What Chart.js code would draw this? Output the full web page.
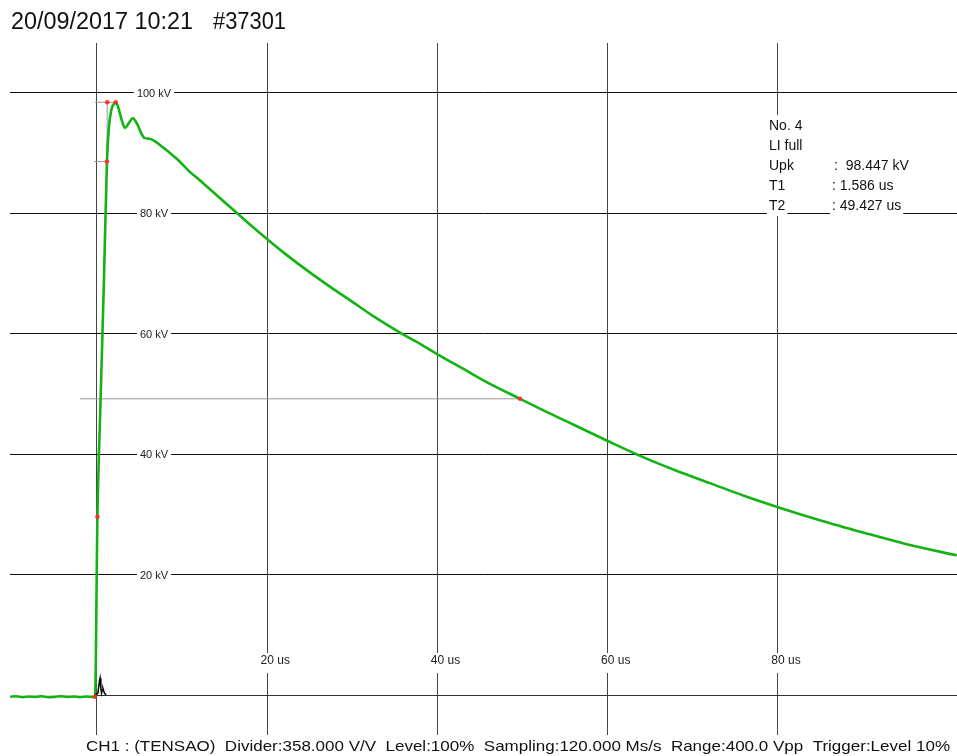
<!DOCTYPE html>
<html>
<head>
<meta charset="utf-8">
<script src="https://cdn.jsdelivr.net/npm/chart.js@4/dist/chart.umd.min.js"></script>
<style>
html,body{margin:0;padding:0;background:#fff;overflow:hidden;}
canvas{display:block;}
</style>
</head>
<body>
<canvas id="c" width="957" height="756"></canvas>
<script>
// ---- data (time in microseconds, voltage in kV) ----
const timeUs = [-10.2,-9.5,-8.7,-8,-7.2,-6.5,-5.7,-5,-4.2,-3.5,-2.7,-2,-1.2,-0.5,-0.23,
  0.05,0.4,0.8,1.17,1.4,1.7,2.0,2.2,2.5,2.9,3.3,3.7,4.2,4.7,5.2,5.6,6.2,7.0,7.8,8.6,9.5,10.9,
  12,14,16,18,20,22,25,28,30,32.5,35.6,38,40,43,46,49.7,53,56,60,64,68,72,76,80,85,90,95,101];
const voltageKV = [-0.3,-0.2,-0.35,-0.25,-0.3,-0.2,-0.35,-0.3,-0.2,-0.3,-0.25,-0.35,-0.25,-0.3,-0.3,
  29.6,48,68,88.6,94.3,97.3,98.2,98.45,97.6,95.5,94.2,94.9,95.8,94.9,93.3,92.5,92.4,91.8,90.9,90.0,88.9,86.9,
  85.6,83.1,80.6,78.1,75.7,73.4,70.2,67.2,65.3,62.9,60.2,58.3,56.6,54.2,51.8,49.2,46.9,44.9,42.2,39.6,37.3,35.2,33.1,31.2,29,27,25.1,23.2];
const refTimeUs = [-0.2,0.1,0.3,0.36,0.45,0.53,0.62,0.7,0.85,1.06];
const refKV = [0,0.3,2.4,2.8,1.2,0.3,0.8,1.1,0.4,0];
const markerTimeUs = [-0.23,0.05,1.17,1.2,2.2,49.7];
const markerKV = [-0.3,29.6,88.6,98.45,98.45,49.2];
const peakLineT = [-0.23,2.2];   const peakLineKV = [98.45,98.45];
const p90LineT = [-0.35,1.17];   const p90LineKV = [88.6,88.6];
const frontLineT = [1.2,1.17];   const frontLineKV = [98.45,88.6];
const halfLineT = [-2.0,49.7];   const halfLineKV = [49.2,49.2];
const xTicks = [0,20,40,60,80];
const yTicks = [20,40,60,80,100];
const xTickLabels = ['20 us','40 us','60 us','80 us'];
const yTickLabels = ['20 kV','40 kV','60 kV','80 kV','100 kV'];
const titleText = '20/09/2017 10:21';
const shotText = '#37301';
const infoLabels = ['No. 4','LI full','Upk','T1','T2'];
const infoValues = ['','','98.447 kV','1.586 us','49.427 us'];
const footerText = 'CH1 : (TENSAO)  Divider:358.000 V/V  Level:100%  Sampling:120.000 Ms/s  Range:400.0 Vpp  Trigger:Level 10%';

const pts = (xs, ys) => xs.map((x, i) => ({x, y: ys[i]}));
const FONT = '"Liberation Sans", Arial, sans-serif';

function fitText(ctx, text, x, y, w) {
  const m = ctx.measureText(text).width;
  ctx.save();
  ctx.translate(x, y);
  ctx.scale(w / m, 1);
  ctx.fillText(text, 0, 0);
  ctx.restore();
}

const decor = {
  id: 'decor',
  beforeDatasetsDraw(chart) {
    const ctx = chart.ctx, xs = chart.scales.x, ys = chart.scales.y;
    const ca = chart.chartArea;
    ctx.save();
    // zero line from t=0 to the right
    const y0 = Math.round(ys.getPixelForValue(0)) + 0.5;
    ctx.strokeStyle = '#333'; ctx.lineWidth = 1;
    ctx.beginPath(); ctx.moveTo(xs.getPixelForValue(0), y0); ctx.lineTo(ca.right, y0); ctx.stroke();
    // y labels
    ctx.font = '11px ' + FONT; ctx.textBaseline = 'middle'; ctx.textAlign = 'center';
    yTicks.forEach((v, i) => {
      const py = ys.getPixelForValue(v);
      const w = ctx.measureText(yTickLabels[i]).width;
      ctx.fillStyle = '#fff'; ctx.fillRect(154 - w / 2 - 3, py - 7, w + 6, 14);
      ctx.fillStyle = '#222'; ctx.fillText(yTickLabels[i], 154, py + 1);
    });
    // x labels
    ctx.font = '12px ' + FONT; ctx.textAlign = 'left';
    xTickLabels.forEach((lab, i) => {
      const px = xs.getPixelForValue(xTicks[i + 1]);
      const num = lab.split(' ')[0];
      const wn = ctx.measureText(num).width;
      const w = ctx.measureText(lab).width;
      const x0 = px - wn / 2;
      ctx.fillStyle = '#fff'; ctx.fillRect(x0 - 2, 653, w + 4, 20);
      ctx.fillStyle = '#222'; ctx.fillText(lab, x0, 661);
    });
    // info block
    ctx.font = '14px ' + FONT; ctx.textBaseline = 'middle';
    const rows = [126, 146, 166, 186, 206];
    ctx.fillStyle = '#fff'; ctx.fillRect(767, 115, 34, 98);
    infoLabels.forEach((lab, i) => {
      const wl = ctx.measureText(lab).width;
      ctx.fillStyle = '#fff'; ctx.fillRect(767, rows[i] - 10, wl + 4, 20);
      ctx.fillStyle = '#111'; ctx.fillText(lab, 769, rows[i]);
      if (infoValues[i]) {
        const s = (i === 2 ? ':  ' : ': ') + infoValues[i];
        const vx = i === 2 ? 834 : 832;
        const wv = ctx.measureText(s).width;
        ctx.fillStyle = '#fff'; ctx.fillRect(vx - 2, rows[i] - 10, wv + 4, 20);
        ctx.fillStyle = '#111'; ctx.fillText(s, vx, rows[i]);
      }
    });
    ctx.restore();
  },
  afterDraw(chart) {
    const ctx = chart.ctx;
    ctx.save();
    ctx.fillStyle = '#111'; ctx.textBaseline = 'alphabetic'; ctx.textAlign = 'left';
    ctx.font = '23px ' + FONT;
    fitText(ctx, titleText, 11, 29, 182);
    fitText(ctx, shotText, 213, 29, 73);
    ctx.font = '15px ' + FONT;
    fitText(ctx, footerText, 86, 751, 864);
    ctx.restore();
  }
};

new Chart(document.getElementById('c'), {
  type: 'line',
  data: {
    datasets: [
      {label: 'markers', data: pts(markerTimeUs, markerKV), showLine: false, pointRadius: 2,
       pointBackgroundColor: '#ff2a2a', pointBorderColor: '#ff2a2a', pointBorderWidth: 0.5, order: 0},
      {label: 'ref', data: pts(refTimeUs, refKV), borderColor: '#000', borderWidth: 1.5, pointRadius: 0, order: 1},
      {label: 'CH1', data: pts(timeUs, voltageKV), borderColor: '#12b312', borderWidth: 2.6, pointRadius: 0,
       cubicInterpolationMode: 'monotone', order: 2},
      {label: 'peak', data: pts(peakLineT, peakLineKV), borderColor: '#999', borderWidth: 1, pointRadius: 0, order: 3},
      {label: 'p90', data: pts(p90LineT, p90LineKV), borderColor: '#999', borderWidth: 1, pointRadius: 0, order: 3},
      {label: 'front', data: pts(frontLineT, frontLineKV), borderColor: '#999', borderWidth: 1, pointRadius: 0, order: 3},
      {label: 'half', data: pts(halfLineT, halfLineKV), borderColor: '#999', borderWidth: 1, pointRadius: 0, order: 3}
    ]
  },
  options: {
    responsive: false, animation: false, devicePixelRatio: 1,
    layout: {autoPadding: false, padding: {left: 10, right: 0, top: 43, bottom: 21}},
    plugins: {legend: {display: false}, tooltip: {enabled: false}, title: {display: false}},
    scales: {
      x: {type: 'linear', min: -10.22, max: 101.03,
          afterBuildTicks: a => { a.ticks = xTicks.map(v => ({value: v})); },
          ticks: {display: false}, border: {display: false},
          grid: {color: '#444', lineWidth: 1, drawTicks: false}},
      y: {type: 'linear', min: -6.64, max: 108.3,
          afterBuildTicks: a => { a.ticks = yTicks.map(v => ({value: v})); },
          ticks: {display: false}, border: {display: false},
          grid: {color: '#111', lineWidth: 1, drawTicks: false}}
    }
  },
  plugins: [decor]
});
</script>
</body>
</html>
